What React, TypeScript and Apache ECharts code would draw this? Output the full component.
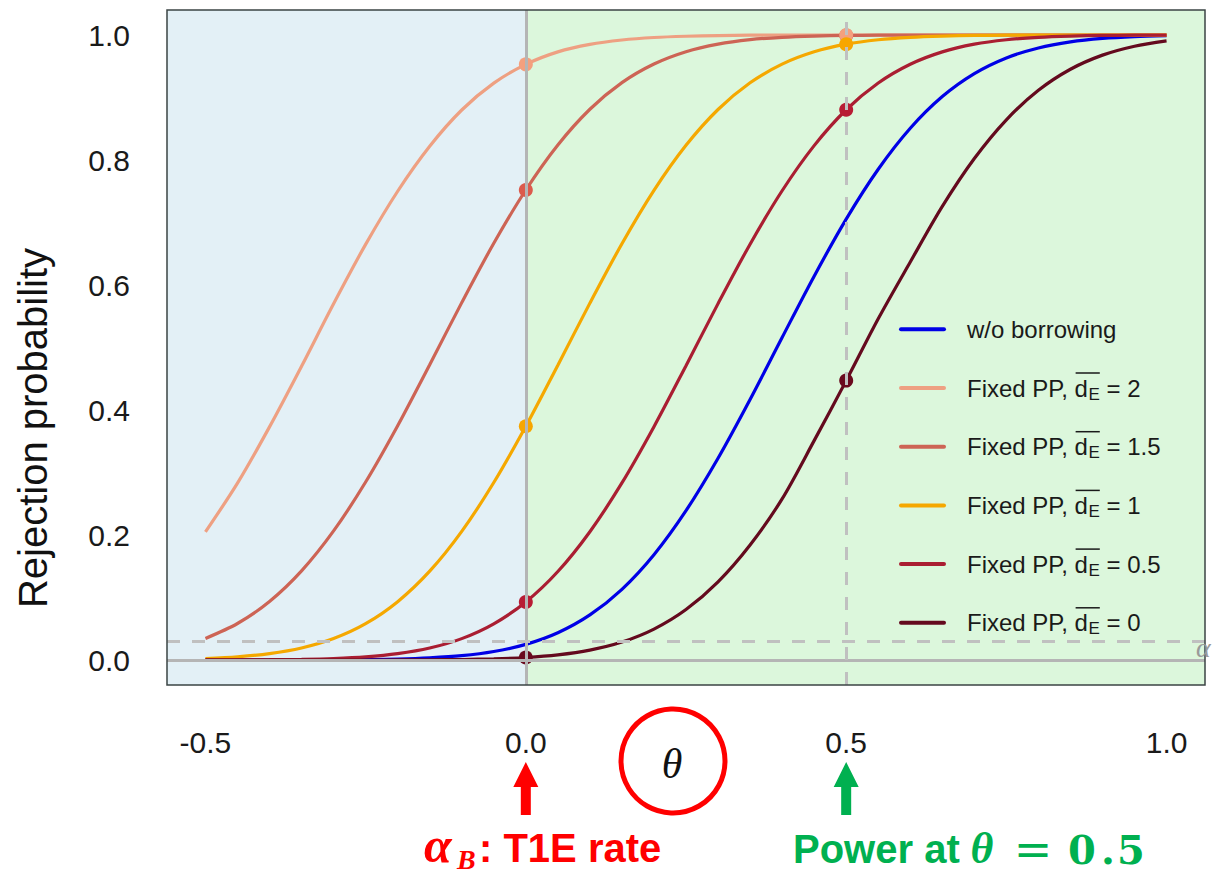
import React, { useEffect, useRef } from 'react';
import * as echarts from 'echarts';

// ---- data ----
const theta = [-0.5, -0.45, -0.4, -0.35, -0.3, -0.25, -0.2, -0.15, -0.1, -0.05, 0, 0.05, 0.1, 0.15, 0.2, 0.25, 0.3, 0.35, 0.4, 0.45, 0.5, 0.55, 0.6, 0.65, 0.7, 0.75, 0.8, 0.85, 0.9, 0.95, 1.0];

const noBorrow = [0, 0, 0, 0.0001, 0.0003, 0.0007, 0.0015, 0.0034, 0.0069, 0.0136, 0.025, 0.0436, 0.0721, 0.1131, 0.1685, 0.2389, 0.3228, 0.4168, 0.516, 0.6141, 0.7054, 0.7852, 0.8508, 0.9015, 0.9382, 0.9633, 0.9793, 0.989, 0.9945, 0.9974, 0.9988];
const pp2 = [0.205, 0.283, 0.373, 0.47, 0.57, 0.665, 0.75, 0.822, 0.88, 0.923, 0.953, 0.973, 0.985, 0.992, 0.996, 0.998, 0.999, 0.9997, 0.9999, 1, 1, 1, 1, 1, 1, 1, 1, 1, 1, 1, 1];
const pp15 = [0.0345, 0.0584, 0.0936, 0.1426, 0.2065, 0.2848, 0.3749, 0.4725, 0.5718, 0.6668, 0.752, 0.824, 0.8812, 0.9238, 0.9536, 0.9733, 0.9854, 0.9925, 0.9963, 0.9983, 0.9993, 0.9997, 0.9999, 1, 1, 1, 1, 1, 1, 1, 1];
const pp1 = [0.0024, 0.0051, 0.0102, 0.0192, 0.0343, 0.0581, 0.0933, 0.1421, 0.2058, 0.284, 0.3741, 0.4717, 0.571, 0.666, 0.7514, 0.8235, 0.8808, 0.9235, 0.9534, 0.9731, 0.9853, 0.9924, 0.9963, 0.9983, 0.9993, 0.9997, 0.9999, 1, 1, 1, 1];
const pp05 = [0.0001, 0.0002, 0.0005, 0.0011, 0.0024, 0.005, 0.0101, 0.0191, 0.0342, 0.0579, 0.0929, 0.1416, 0.2053, 0.2833, 0.3733, 0.4709, 0.5702, 0.6653, 0.7508, 0.823, 0.8804, 0.9232, 0.9532, 0.973, 0.9853, 0.9924, 0.9963, 0.9983, 0.9993, 0.9997, 0.9999];
const pp0 = [0, 0, 0, 0, 0, 0, 0.0001, 0.0003, 0.0008, 0.0019, 0.004, 0.0082, 0.0158, 0.0287, 0.0495, 0.0808, 0.1251, 0.1841, 0.2578, 0.351, 0.447, 0.546, 0.6368, 0.7257, 0.8023, 0.8643, 0.9115, 0.9452, 0.9678, 0.9821, 0.9906];

const seriesNames = ['w/o borrowing', 'Fixed PP, dE = 2', 'Fixed PP, dE = 1.5', 'Fixed PP, dE = 1', 'Fixed PP, dE = 0.5', 'Fixed PP, dE = 0'];
const legendValues = ['', '2', '1.5', '1', '0.5', '0'];
const seriesValues = [noBorrow, pp2, pp15, pp1, pp05, pp0];
const lineColors = ['#0000e6', '#eea082', '#cd6455', '#f5a800', '#aa1e32', '#640a1e'];
const pointColors = ['', '#f4a07e', '#dc5a4c', '#f7a600', '#b81c34', '#6a0a1e'];
const pointOrder = [2, 1, 3, 4, 5];

const yTicks = [0, 0.2, 0.4, 0.6, 0.8, 1.0];
const xTicks = [-0.5, 0, 0.5, 1.0];
const alphaLevel = 0.025;
const refThetas = [0, 0.5];
const xRange = [-0.56, 1.06];
const yRange = [-0.04, 1.04];

const SANS = '"Liberation Sans", Arial, sans-serif';
const SERIF = '"Liberation Serif", "DejaVu Serif", serif';

function measure(text: string, font: string): number {
  const c = document.createElement('canvas').getContext('2d');
  if (!c) return text.length * 12;
  c.font = font;
  return c.measureText(text).width;
}

export default function App() {
  const ref = useRef<HTMLDivElement>(null);

  useEffect(() => {
    document.body.style.margin = '0';
    if (!ref.current) return;
    const chart = echarts.init(ref.current, undefined, { renderer: 'svg' });

    const lineSeries = seriesValues.map((vals, k) => ({
      name: seriesNames[k],
      type: 'line',
      data: theta.map((t, i) => [t, vals[i]]),
      showSymbol: false,
      symbol: 'none',
      smooth: 0.3,
      silent: true,
      z: 3,
      lineStyle: { color: lineColors[k], width: 3.2 },
    }));

    const pointSeries = pointOrder.map((k) => ({
      name: seriesNames[k] + ' pts',
      type: 'scatter',
      data: refThetas.map((t) => [t, seriesValues[k][theta.indexOf(t)]]),
      symbol: 'circle',
      symbolSize: 14,
      silent: true,
      z: 4,
      itemStyle: { color: pointColors[k], opacity: 1 },
    }));

    const option: any = {
      animation: false,
      grid: {
        left: 167, top: 10, width: 1038, height: 675,
        show: true, borderColor: '#3b4444', borderWidth: 1.5,
        backgroundColor: 'transparent', containLabel: false, outerBoundsMode: 'none', z: 10,
      },
      xAxis: {
        type: 'value', min: xRange[0], max: xRange[1],
        axisLine: { show: false }, splitLine: { show: false },
        axisTick: { show: true, customValues: xTicks, length: 18, lineStyle: { color: '#222', width: 1.5 } },
        axisLabel: {
          customValues: xTicks, formatter: (v: number) => v.toFixed(1),
          fontSize: 30, fontFamily: SANS, color: '#1a1a1a', margin: 42,
        },
      },
      yAxis: {
        type: 'value', min: yRange[0], max: yRange[1],
        axisLine: { show: false }, splitLine: { show: false },
        axisTick: { show: true, customValues: yTicks, length: 17, lineStyle: { color: '#222', width: 1.5 } },
        axisLabel: {
          customValues: yTicks, formatter: (v: number) => v.toFixed(1),
          fontSize: 30, fontFamily: SANS, color: '#1a1a1a', margin: 37,
        },
      },
      series: [
        {
          name: 'bg', type: 'line', data: [[0, 0]], showSymbol: false, symbol: 'none', silent: true, z: 0,
          lineStyle: { opacity: 0 },
          markArea: {
            silent: true,
            data: [
              [{ xAxis: xRange[0], itemStyle: { color: '#e3f0f6' } }, { xAxis: 0 }],
              [{ xAxis: 0, itemStyle: { color: '#dcf7dc' } }, { xAxis: xRange[1] }],
            ],
          },
        },
        {
          name: 'ref', type: 'line', data: [[0, 0]], showSymbol: false, symbol: 'none', silent: true, z: 1,
          lineStyle: { opacity: 0 },
          markLine: {
            silent: true, symbol: ['none', 'none'], label: { show: false },
            data: [
              { yAxis: 0, lineStyle: { color: '#b5b5b5', width: 3, type: 'solid' } },
              { xAxis: refThetas[0], lineStyle: { color: '#b5b5b5', width: 3, type: 'solid' } },
              { yAxis: alphaLevel, lineStyle: { color: '#c0c0c0', width: 3, type: [13, 12] } },
              { xAxis: refThetas[1], lineStyle: { color: '#c0c0c0', width: 3, type: [13, 12] } },
            ],
          },
        },
        ...lineSeries,
        ...pointSeries,
      ],
    };
    chart.setOption(option);

    // ---- annotations & legend ----
    const p0 = chart.convertToPixel({ gridIndex: 0 }, [refThetas[0], alphaLevel]) as number[];
    const p5 = chart.convertToPixel({ gridIndex: 0 }, [refThetas[1], 0]) as number[];
    const textColor = '#1a1a1a';
    const g: any[] = [];

    // y axis title
    g.push({
      type: 'text', x: 33, y: 428, rotation: Math.PI / 2,
      style: { text: 'Rejection probability', font: `40px ${SANS}`, fill: '#111', align: 'center', verticalAlign: 'middle' },
    });

    // alpha label at right end of dashed line
    g.push({
      type: 'text', x: 1196, y: p0[1] + 3,
      style: { text: 'α', font: `italic 28px ${SERIF}`, fill: '#9a9a9a', align: 'left', verticalAlign: 'middle' },
    });

    // legend
    const legX1 = 901, legX2 = 944, legTextX = 967;
    const rowY0 = 329.3, rowGap = 58.7;
    const mainFont = `24px ${SANS}`;
    const subFont = `17px ${SANS}`;
    seriesNames.forEach((nm, k) => {
      const y = rowY0 + k * rowGap;
      g.push({ type: 'line', shape: { x1: legX1, y1: y, x2: legX2, y2: y }, style: { stroke: lineColors[k], lineWidth: 4, lineCap: 'round' } });
      if (k === 0) {
        g.push({ type: 'text', x: legTextX, y, style: { text: nm, font: mainFont, fill: textColor, align: 'left', verticalAlign: 'middle' } });
      } else {
        const pre = 'Fixed PP, ';
        const wPre = measure(pre, mainFont);
        const wd = measure('d', mainFont);
        const wE = measure('E', subFont);
        const dx = legTextX + wPre;
        const ex = dx + wd + 0.5;
        g.push({ type: 'text', x: legTextX, y, style: { text: pre, font: mainFont, fill: textColor, align: 'left', verticalAlign: 'middle' } });
        g.push({ type: 'text', x: dx, y, style: { text: 'd', font: mainFont, fill: textColor, align: 'left', verticalAlign: 'middle' } });
        g.push({ type: 'text', x: ex, y: y + 6, style: { text: 'E', font: subFont, fill: textColor, align: 'left', verticalAlign: 'middle' } });
        g.push({ type: 'line', shape: { x1: dx + 1, y1: y - 15, x2: ex + wE, y2: y - 15 }, style: { stroke: textColor, lineWidth: 1.5 } });
        g.push({ type: 'text', x: ex + wE, y, style: { text: ' = ' + legendValues[k], font: mainFont, fill: textColor, align: 'left', verticalAlign: 'middle' } });
      }
    });

    // theta circle
    g.push({ type: 'circle', shape: { cx: 673, cy: 761, r: 52 }, style: { fill: 'none', stroke: '#ff0000', lineWidth: 5 } });
    g.push({ type: 'text', x: 672, y: 764, style: { text: 'θ', font: `italic 42px ${SERIF}`, fill: '#111', align: 'center', verticalAlign: 'middle' } });

    // arrows
    const arrow = (cx: number, color: string) => ({
      type: 'polygon',
      shape: { points: [[cx, 762], [cx - 12.5, 787], [cx - 5, 787], [cx - 5, 815], [cx + 5, 815], [cx + 5, 787], [cx + 12.5, 787]] },
      style: { fill: color },
    });
    g.push(arrow(p0[0], '#ff0000'));
    g.push(arrow(p5[0], '#00b050'));

    // red caption
    g.push({ type: 'text', x: 424, y: 845, style: { text: 'α', font: `bold italic 50px ${SERIF}`, fill: '#ff0000', align: 'left', verticalAlign: 'middle' } });
    g.push({ type: 'text', x: 457, y: 859, style: { text: 'B', font: `bold italic 28px ${SERIF}`, fill: '#ff0000', align: 'left', verticalAlign: 'middle' } });
    g.push({ type: 'text', x: 479, y: 848, style: { text: ': T1E rate', font: `bold 40px ${SANS}`, fill: '#ff0000', align: 'left', verticalAlign: 'middle' } });

    // green caption
    const green = '#00b050';
    g.push({ type: 'text', x: 793, y: 849, style: { text: 'Power at', font: `bold 40px ${SANS}`, fill: green, align: 'left', verticalAlign: 'middle' } });
    g.push({ type: 'text', x: 982, y: 848, style: { text: 'θ', font: `bold italic 44px ${SERIF}`, fill: green, align: 'center', verticalAlign: 'middle' } });
    g.push({ type: 'text', x: 1033, y: 849, style: { text: '=', font: `46px "DejaVu Sans", sans-serif`, fill: green, align: 'center', verticalAlign: 'middle' } });
    g.push({ type: 'text', x: 1082, y: 849, style: { text: '0', font: `bold 40px "DejaVu Serif", serif`, fill: green, align: 'center', verticalAlign: 'middle' } });
    g.push({ type: 'text', x: 1108, y: 849, style: { text: '.', font: `bold 40px "DejaVu Serif", serif`, fill: green, align: 'center', verticalAlign: 'middle' } });
    g.push({ type: 'text', x: 1131, y: 849, style: { text: '5', font: `bold 40px "DejaVu Serif", serif`, fill: green, align: 'center', verticalAlign: 'middle' } });

    chart.setOption({ graphic: g.map((e) => ({ ...e, z: 100, silent: true })) });

    return () => chart.dispose();
  }, []);

  return <div ref={ref} style={{ width: 1214, height: 875 }} />;
}
